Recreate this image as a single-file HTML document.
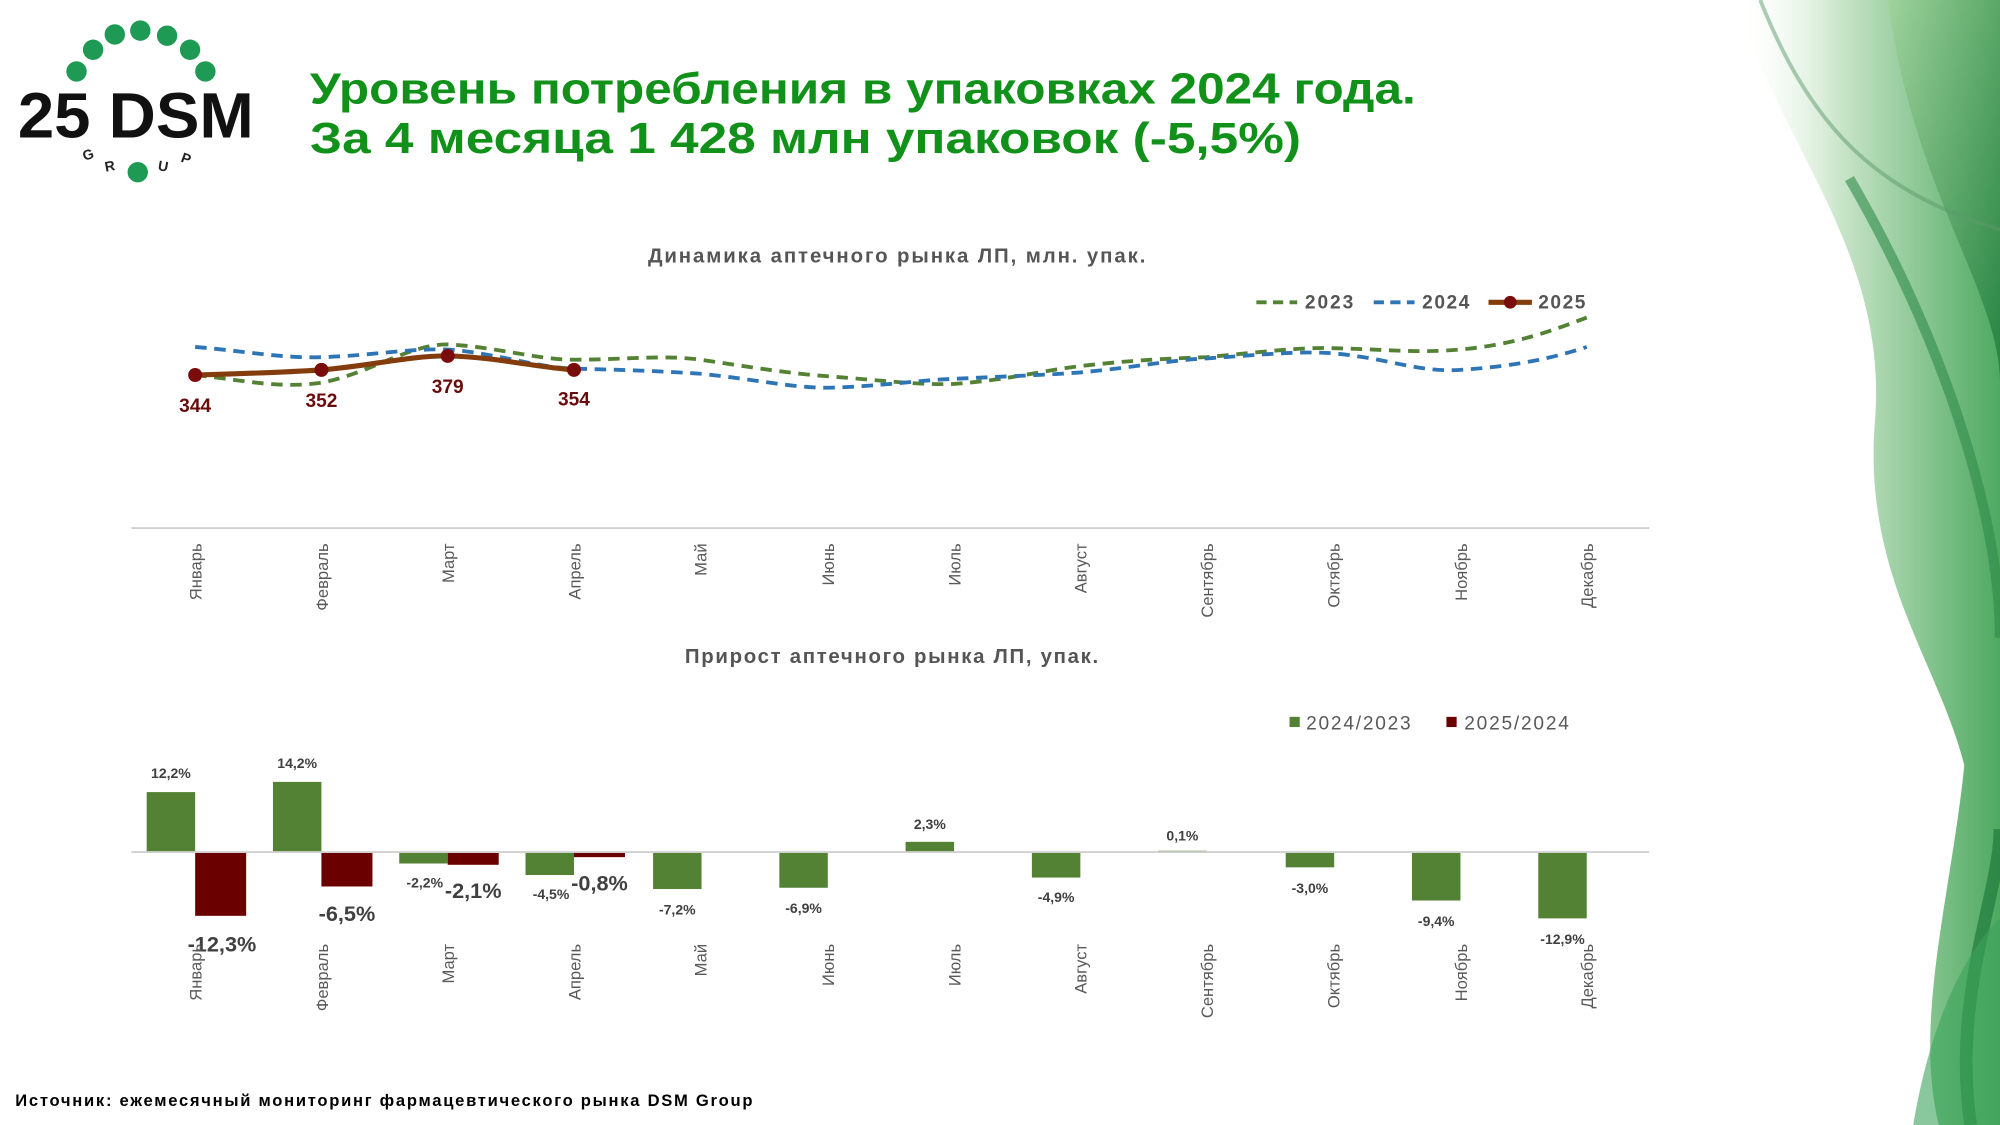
<!DOCTYPE html>
<html><head><meta charset="utf-8"><style>html,body{margin:0;padding:0;background:#fff;width:2000px;height:1125px;overflow:hidden}</style></head><body>
<svg width="2000" height="1125" viewBox="0 0 1568 882" xmlns="http://www.w3.org/2000/svg" font-family="Liberation Sans, DejaVu Sans, sans-serif">
<defs>
<linearGradient id="g1" x1="0" y1="0" x2="1" y2="0"><stop offset="0" stop-color="#fff" stop-opacity="0"/><stop offset="0.4" stop-color="#bfe0bf"/><stop offset="1" stop-color="#2f9a45"/></linearGradient>
<linearGradient id="g2" x1="0" y1="0" x2="1" y2="1"><stop offset="0" stop-color="#9ed39a"/><stop offset="1" stop-color="#1d7a3a"/></linearGradient>
</defs>
<rect width="1568" height="882" fill="#fff"/>
<path d="M1360 0 C1400 120 1480 200 1470 330 C1460 450 1520 520 1540 600 C1530 700 1500 800 1520 882 L1568 882 L1568 0 Z" fill="url(#g1)" opacity="0.85"/>
<path d="M1480 0 C1500 150 1568 230 1568 300 L1568 0 Z" fill="url(#g2)" opacity="0.8"/>
<path d="M1450 140 C1520 260 1568 400 1568 500" stroke="#2e8b4a" stroke-width="8" fill="none" opacity="0.6"/>
<path d="M1545 882 C1530 780 1568 700 1568 650" stroke="#1f7a3c" stroke-width="10" fill="none" opacity="0.7"/>
<path d="M1500 882 C1520 760 1568 720 1568 720 L1568 882 Z" fill="#3aa35a" opacity="0.6"/>
<path d="M1380 0 C1420 100 1470 150 1568 180" stroke="#5c9a6a" stroke-width="3" fill="none" opacity="0.5"/>
<!-- logo -->
<g fill="#1f9a55">
<circle cx="60" cy="56" r="8"/><circle cx="73" cy="39" r="8"/><circle cx="90" cy="27" r="8"/><circle cx="110" cy="24" r="8"/><circle cx="131" cy="28" r="8"/><circle cx="149" cy="39" r="8"/><circle cx="161" cy="56" r="8"/>
</g>
<text x="14" y="108" font-size="50" font-weight="bold" fill="#111" textLength="185" lengthAdjust="spacingAndGlyphs">25 DSM</text>
<circle cx="108" cy="135" r="8" fill="#1f9a55"/>
<g font-size="11" font-weight="bold" fill="#222" text-anchor="middle">
<text x="69" y="125" transform="rotate(-20 69 121)">G</text>
<text x="86" y="134" transform="rotate(-10 86 130)">R</text>
<text x="128" y="134" transform="rotate(10 128 130)">U</text>
<text x="146" y="128" transform="rotate(20 146 124)">P</text>
</g>
<!-- title -->
<text x="243" y="81" font-size="34" font-weight="bold" fill="#12911a" textLength="867" lengthAdjust="spacingAndGlyphs">Уровень потребления в упаковках 2024 года.</text>
<text x="243" y="120" font-size="34" font-weight="bold" fill="#12911a" textLength="777" lengthAdjust="spacingAndGlyphs">За 4 месяца 1 428 млн упаковок (-5,5%)</text>
<!-- chart 1 -->
<text x="508" y="206" font-size="16" font-weight="bold" fill="#555" textLength="390">Динамика аптечного рынка ЛП, млн. упак.</text>
<g font-size="15" font-weight="bold" fill="#555">
<line x1="985" y1="237" x2="1017" y2="237" stroke="#548235" stroke-width="3" stroke-dasharray="8,5"/><text x="1023" y="242" textLength="38">2023</text>
<line x1="1077" y1="237" x2="1109" y2="237" stroke="#2e75b6" stroke-width="3" stroke-dasharray="8,5"/><text x="1115" y="242" textLength="37">2024</text>
<line x1="1167" y1="237" x2="1201" y2="237" stroke="#843c0c" stroke-width="4"/><circle cx="1184" cy="237" r="5" fill="#7b0c0c"/><text x="1206" y="242" textLength="37">2025</text>
</g>
<path d="M153 294 C190 298 220 305 252 300 C290 293 320 270 351 270 C390 272 420 282 450 282 C490 282 520 278 549 282 C590 288 620 293 649 295 C690 298 720 302 748 301 C790 298 820 290 847 287 C890 282 920 281 946 280 C990 276 1020 272 1045 273 C1090 274 1110 277 1145 274 C1190 270 1220 258 1244 249" stroke="#548235" stroke-width="3" fill="none" stroke-dasharray="9,6"/>
<path d="M153 272 C190 275 220 281 252 280 C290 279 320 273 351 274 C390 277 420 288 450 289 C490 290 520 291 549 293 C590 297 620 304 649 304 C690 303 720 298 748 297 C790 295 820 294 847 292 C890 288 920 282 946 281 C990 278 1020 275 1045 277 C1090 281 1110 292 1145 290 C1190 287 1220 280 1244 272" stroke="#2e75b6" stroke-width="3" fill="none" stroke-dasharray="9,6"/>
<path d="M153 294 C190 293 220 292 252 290 C290 287 320 279 351 279 C390 280 420 288 450 290" stroke="#843c0c" stroke-width="4" fill="none"/>
<g fill="#7b0c0c"><circle cx="153" cy="294" r="5.5"/><circle cx="252" cy="290" r="5.5"/><circle cx="351" cy="279" r="5.5"/><circle cx="450" cy="290" r="5.5"/></g>
<g font-size="15" font-weight="bold" fill="#6b0c0c" text-anchor="middle">
<text x="153" y="323">344</text><text x="252" y="319">352</text><text x="351" y="308">379</text><text x="450" y="318">354</text></g>
<line x1="103" y1="414" x2="1293" y2="414" stroke="#d0d0d0" stroke-width="1.5"/>
<g font-size="13" fill="#595959" text-anchor="end">
<text transform="translate(158,426) rotate(-90)">Январь</text>
<text transform="translate(257,426) rotate(-90)">Февраль</text>
<text transform="translate(356,426) rotate(-90)">Март</text>
<text transform="translate(455,426) rotate(-90)">Апрель</text>
<text transform="translate(554,426) rotate(-90)">Май</text>
<text transform="translate(654,426) rotate(-90)">Июнь</text>
<text transform="translate(753,426) rotate(-90)">Июль</text>
<text transform="translate(852,426) rotate(-90)">Август</text>
<text transform="translate(951,426) rotate(-90)">Сентябрь</text>
<text transform="translate(1050,426) rotate(-90)">Октябрь</text>
<text transform="translate(1150,426) rotate(-90)">Ноябрь</text>
<text transform="translate(1249,426) rotate(-90)">Декабрь</text>
</g>
<!-- chart 2 -->
<text x="537" y="520" font-size="16" font-weight="bold" fill="#555" textLength="324">Прирост аптечного рынка ЛП, упак.</text>
<rect x="1011" y="562" width="8" height="8" fill="#548235"/><text x="1024" y="572" font-size="15" fill="#595959" textLength="82">2024/2023</text>
<rect x="1134" y="562" width="8" height="8" fill="#6b0000"/><text x="1148" y="572" font-size="15" fill="#595959" textLength="82">2025/2024</text>
<g fill="#548235">
<rect x="115" y="621" width="38" height="47"/><rect x="214" y="613" width="38" height="55"/><rect x="313" y="668" width="38" height="9"/><rect x="412" y="668" width="38" height="18"/>
<rect x="512" y="668" width="38" height="29"/><rect x="611" y="668" width="38" height="28"/><rect x="710" y="660" width="38" height="8"/><rect x="809" y="668" width="38" height="20"/>
<rect x="908" y="667" width="38" height="1"/><rect x="1008" y="668" width="38" height="12"/><rect x="1107" y="668" width="38" height="38"/><rect x="1206" y="668" width="38" height="52"/>
</g>
<g fill="#6b0000">
<rect x="153" y="668" width="40" height="50"/><rect x="252" y="668" width="40" height="27"/><rect x="351" y="668" width="40" height="10"/><rect x="450" y="668" width="40" height="4"/>
</g>
<line x1="103" y1="668" x2="1293" y2="668" stroke="#d0d0d0" stroke-width="1.5"/>
<g font-size="11" font-weight="bold" fill="#404040" text-anchor="middle">
<text x="134" y="610">12,2%</text><text x="233" y="602">14,2%</text><text x="333" y="696">-2,2%</text><text x="432" y="705">-4,5%</text>
<text x="531" y="717">-7,2%</text><text x="630" y="716">-6,9%</text><text x="729" y="650">2,3%</text><text x="828" y="707">-4,9%</text>
<text x="927" y="659">0,1%</text><text x="1027" y="700">-3,0%</text><text x="1126" y="726">-9,4%</text><text x="1225" y="740">-12,9%</text>
</g>
<g font-size="17" font-weight="bold" fill="#404040" text-anchor="middle">
<text x="174" y="746">-12,3%</text><text x="272" y="722">-6,5%</text><text x="371" y="704">-2,1%</text><text x="470" y="698">-0,8%</text>
</g>
<g font-size="13" fill="#595959" text-anchor="end">
<text transform="translate(158,740) rotate(-90)">Январь</text>
<text transform="translate(257,740) rotate(-90)">Февраль</text>
<text transform="translate(356,740) rotate(-90)">Март</text>
<text transform="translate(455,740) rotate(-90)">Апрель</text>
<text transform="translate(554,740) rotate(-90)">Май</text>
<text transform="translate(654,740) rotate(-90)">Июнь</text>
<text transform="translate(753,740) rotate(-90)">Июль</text>
<text transform="translate(852,740) rotate(-90)">Август</text>
<text transform="translate(951,740) rotate(-90)">Сентябрь</text>
<text transform="translate(1050,740) rotate(-90)">Октябрь</text>
<text transform="translate(1150,740) rotate(-90)">Ноябрь</text>
<text transform="translate(1249,740) rotate(-90)">Декабрь</text>
</g>
<text x="12" y="867" font-size="13" font-weight="bold" fill="#000" textLength="578">Источник: ежемесячный мониторинг фармацевтического рынка DSM Group</text>
</svg>
</body></html>
